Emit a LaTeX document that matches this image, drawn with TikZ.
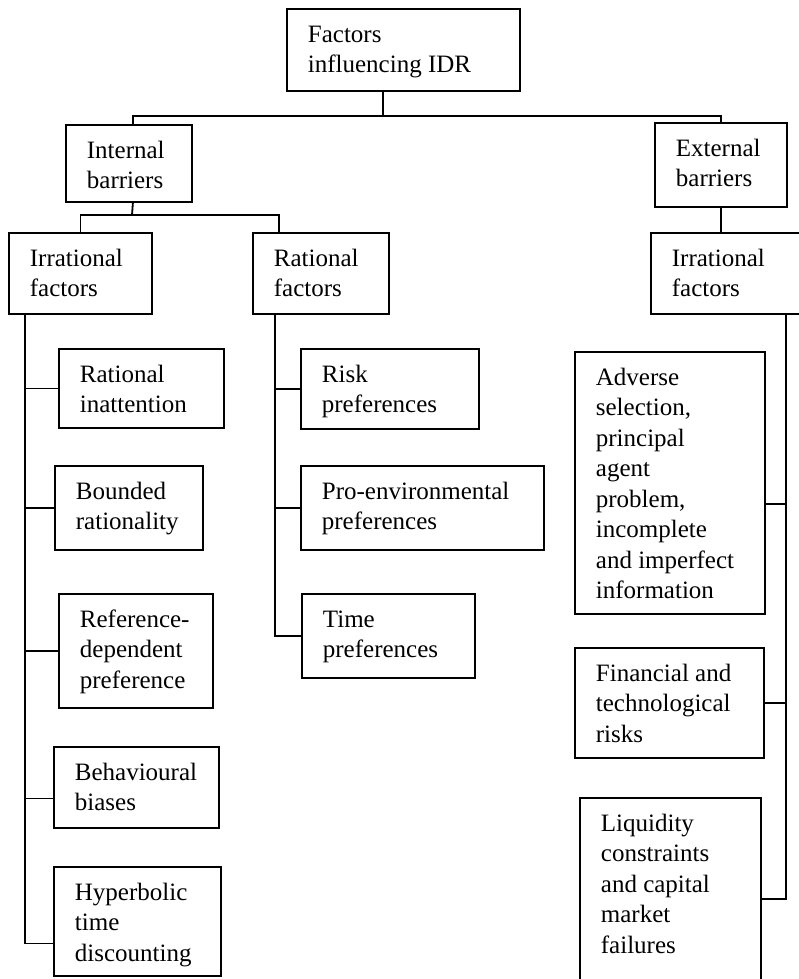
\documentclass[tikz,border=0pt]{standalone}
\usepackage{fontspec}
\setmainfont{Liberation Serif}
\usepackage{tikz}
\usetikzlibrary{calc}

% box contents: width, height, text (top aligned)
\newcommand{\boxtext}[3]{\parbox[t][\dimexpr#2pt-24pt\relax][t]{\dimexpr#1pt-42pt\relax}{\raggedright\strut#3}}

\begin{document}
\begin{tikzpicture}[x=1pt, y=-1pt, line width=1.8pt,
    font=\fontsize{25}{30.5}\selectfont,
    box/.style={draw, anchor=north west, inner xsep=21pt, inner ysep=12pt}]
  \useasboundingbox (0,0) rectangle (799,979);
  \clip (0,0) rectangle (799,979);

  % levels 1-3
  \node[box] (root) at (286,8) {\boxtext{233}{82}{Factors\\influencing IDR}};
  \node[box] (intb) at (65,124) {\boxtext{126}{77}{Internal\\barriers}};
  \node[box] (extb) at (654,122) {\boxtext{132}{84}{External\\barriers}};
  \node[box] (irrL) at (8,232) {\boxtext{143}{81}{Irrational\\factors}};
  \node[box] (ratL) at (252,232) {\boxtext{136}{81}{Rational\\factors}};
  \node[box] (irrR) at (650,232) {\boxtext{160}{81}{Irrational\\factors}};

  % irrational (internal)
  \node[box] (ri) at (58,348) {\boxtext{165}{79}{Rational\\inattention}};
  \node[box] (br) at (54,465) {\boxtext{148}{84}{Bounded\\rationality}};
  \node[box] (rd) at (58,593) {\boxtext{154}{114}{Reference-\\dependent\\preference}};
  \node[box] (bb) at (53,746) {\boxtext{165}{81}{Behavioural\\biases}};
  \node[box] (ht) at (53,866) {\boxtext{167}{109}{Hyperbolic\\time\\discounting}};

  % rational
  \node[box] (rp) at (300,348) {\boxtext{178}{80}{Risk\\preferences}};
  \node[box] (pe) at (300,465) {\boxtext{243}{84}{Pro-environmental\\preferences}};
  \node[box] (tp) at (301,593) {\boxtext{173}{84}{Time\\preferences}};

  % external
  \node[box] (as) at (574,351) {\boxtext{190}{262}{Adverse\\selection,\\principal\\agent\\problem,\\incomplete\\and imperfect\\information}};
  \node[box] (ft) at (574,647) {\boxtext{189}{110}{Financial and\\technological\\risks}};
  \node[box] (lc) at (579,797) {\boxtext{181}{200}{Liquidity\\constraints\\and capital\\market\\failures}};

  % connectors
  \coordinate (top) at (383,116);
  \draw (top |- root.south) -- (top);
  \draw ([xshift=4pt]intb.north) |- (top) -| (extb.north);
  \coordinate (ij) at (132,215);
  \draw ([xshift=4pt]intb.south) -- (ij);
  \draw (irrL.north) |- (ij) -| ($(ratL.north west)+(27,0)$);
  \draw (extb.south) -- (extb.south |- irrR.north);

  \coordinate (lt) at ($(irrL.south west)+(17,0)$);
  \foreach \n/\s in {ri/0, br/0, rd/0, bb/-11, ht/-22}
    \draw ([yshift=\s pt]\n.west) -| (lt);
  \coordinate (rt) at ($(ratL.south west)+(23,0)$);
  \foreach \n in {rp, pe, tp}
    \draw (\n.west) -| (rt);
  \coordinate (xt) at ($(irrR.south west)+(136,0)$);
  \draw ([yshift=-21pt]as.east) -| (xt);
  \draw (ft.east) -| (xt);
  \draw ([yshift=-102pt]lc.north east) -| (xt);
\end{tikzpicture}
\end{document}
